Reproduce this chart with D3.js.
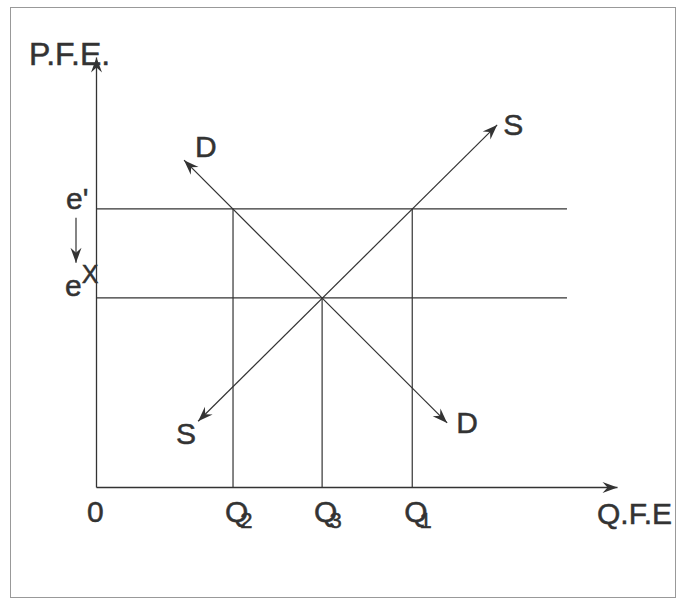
<!DOCTYPE html>
<html>
<head>
<meta charset="utf-8">
<script src="https://cdn.jsdelivr.net/npm/d3@7"></script>
<style>
  body { margin: 0; background: #fff; }
  text { font-family: "Liberation Sans", Arial, sans-serif; fill: #333; stroke: #333; stroke-width: 0.5; }
</style>
</head>
<body>
<svg id="main-graph" width="676" height="598"></svg>
<script>
// quantities of foreign exchange where the lines cross
var quantityNames = ["Q", "Q", "Q"];
var quantitySubs = ["2", "3", "1"];
var quantityValues = [2.63, 4.34, 6.07];
var quantityMeets = [6.47, 4.40, 6.47];   // price level the vertical rises to

// exchange rate levels
var priceNames = ["e'", "e"];
var priceValues = [6.47, 4.40];
var guideEnd = 9.04;

// supply and demand curves (two end points each)
var supplyPoints = [{q: 1.96, p: 1.53}, {q: 7.70, p: 8.42}];
var demandPoints = [{q: 1.69, p: 7.60}, {q: 6.74, p: 1.49}];

var svg = d3.select("#main-graph"),
    ink = "#333";

var x = d3.scaleLinear().domain([0, 10]).range([96, 617]);
var y = d3.scaleLinear().domain([0, 10]).range([487, 57]);

// scanned page border
svg.append("rect")
    .attr("x", 10.5).attr("y", 7.5)
    .attr("width", 665).attr("height", 590)
    .attr("fill", "none")
    .attr("stroke", "#999");

svg.append("defs").append("marker")
    .attr("id", "head")
    .attr("viewBox", "-16 -6 17 12")
    .attr("refX", 0).attr("refY", 0)
    .attr("markerWidth", 17).attr("markerHeight", 12)
    .attr("markerUnits", "userSpaceOnUse")
    .attr("orient", "auto-start-reverse")
    .append("path")
    .attr("d", "M0,0L-15,-5.5L-10,0L-15,5.5Z")
    .attr("fill", ink);

// axes, no ticks
svg.append("g")
    .attr("transform", "translate(0," + y(0) + ")")
    .call(d3.axisBottom(x).tickValues([]).tickSizeOuter(0));
svg.append("g")
    .attr("transform", "translate(" + x(0) + ",0)")
    .call(d3.axisLeft(y).tickValues([]).tickSizeOuter(0));
svg.selectAll(".domain")
    .attr("stroke", ink)
    .attr("stroke-width", 1.3)
    .attr("marker-end", "url(#head)");

// horizontal rate lines
svg.selectAll(".rate")
    .data(priceValues)
    .enter().append("line")
    .attr("class", "rate")
    .attr("x1", x(0)).attr("x2", x(guideEnd))
    .attr("y1", d => y(d)).attr("y2", d => y(d))
    .attr("stroke", ink).attr("stroke-width", 1.2);

// vertical quantity lines
svg.selectAll(".qty")
    .data(quantityValues)
    .enter().append("line")
    .attr("class", "qty")
    .attr("x1", d => x(d)).attr("x2", d => x(d))
    .attr("y1", (d, i) => y(quantityMeets[i])).attr("y2", y(0))
    .attr("stroke", ink).attr("stroke-width", 1.2);

var line = d3.line().x(d => x(d.q)).y(d => y(d.p));

// supply and demand with arrows at both ends
svg.selectAll(".curve")
    .data([supplyPoints, demandPoints])
    .enter().append("path")
    .attr("class", "curve")
    .attr("d", d => line(d))
    .attr("fill", "none")
    .attr("stroke", ink)
    .attr("stroke-width", 1.2)
    .attr("marker-start", "url(#head)")
    .attr("marker-end", "url(#head)");

// curve labels
var big = 30;
svg.append("text").attr("x", x(demandPoints[0].q) + 11).attr("y", y(demandPoints[0].p) - 3)
    .attr("font-size", big).text("D");
svg.append("text").attr("x", x(demandPoints[1].q) + 9).attr("y", y(demandPoints[1].p) + 10)
    .attr("font-size", big).text("D");
svg.append("text").attr("x", x(supplyPoints[1].q) + 6).attr("y", y(supplyPoints[1].p) + 10)
    .attr("font-size", big).text("S");
svg.append("text").attr("x", x(supplyPoints[0].q) - 22).attr("y", y(supplyPoints[0].p) + 23)
    .attr("font-size", big).text("S");

// axis titles
svg.append("text").attr("x", 29).attr("y", 65)
    .attr("font-size", 32).text("P.F.E.");
svg.append("text").attr("x", 597).attr("y", 524)
    .attr("font-size", big).text("Q.F.E");
svg.append("text").attr("x", x(0) - 9).attr("y", 522)
    .attr("font-size", big).text("0");

// quantity labels with subscripts
svg.selectAll(".qlab")
    .data(quantityValues)
    .enter().append("text")
    .attr("class", "qlab")
    .attr("x", d => x(d) - 8)
    .attr("y", 522)
    .attr("font-size", big)
    .each(function(d, i) {
        var t = d3.select(this);
        t.append("tspan").text(quantityNames[i]);
        t.append("tspan").attr("dx", -8).attr("dy", 6)
            .attr("font-size", 22).text(quantitySubs[i]);
    });

// rate labels
svg.append("text").attr("x", 66).attr("y", y(priceValues[0]))
    .attr("font-size", big).text(priceNames[0]);
var e2 = svg.append("text").attr("x", 65).attr("y", y(priceValues[1]) - 2)
    .attr("font-size", big);
e2.append("tspan").text(priceNames[1]);
e2.append("tspan").attr("dy", -13).attr("font-size", 25).text("X");

// arrow showing the fall from e' to e
svg.append("line")
    .attr("x1", 76).attr("y1", y(priceValues[0]) + 9)
    .attr("x2", 76).attr("y2", y(priceValues[1]) - 35)
    .attr("stroke", ink).attr("stroke-width", 1.2)
    .attr("marker-end", "url(#head)");
</script>
</body>
</html>
